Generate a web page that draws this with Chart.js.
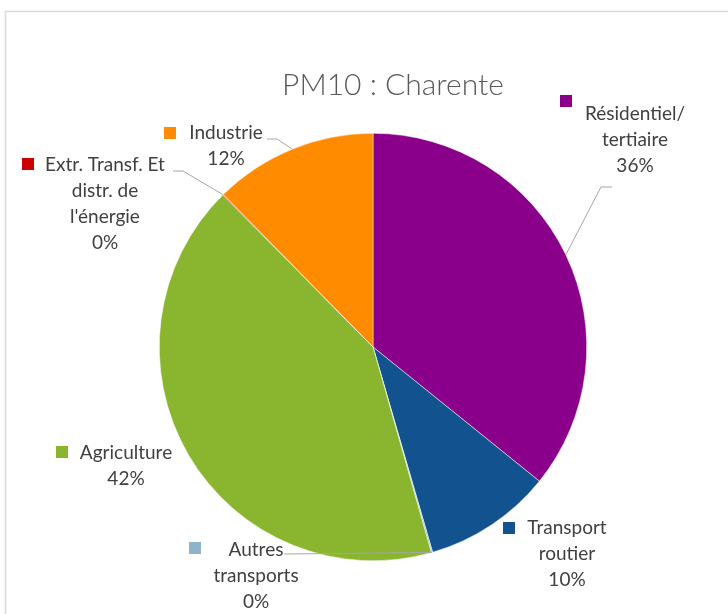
<!DOCTYPE html>
<html>
<head>
<meta charset="utf-8">
<script src="https://cdn.jsdelivr.net/npm/chart.js@4/dist/chart.umd.min.js"></script>
<style>
  html, body { margin: 0; padding: 0; background: #fff; }
  #wrap { width: 728px; height: 614px; }
</style>
</head>
<body>
<div id="wrap"><canvas id="c" width="728" height="614"></canvas></div>
<script>
// PM10 emissions by sector, Charente (shares in %)
const chartTitle = 'PM10 : Charente';
const categories = [
  'Résidentiel/\ntertiaire',
  'Transport\nroutier',
  'Autres\ntransports',
  'Agriculture',
  "Extr. Transf. Et\ndistr. de\nl'énergie",
  'Industrie'
];
const values = [35.8, 9.7, 0.1, 42.0, 0.05, 12.35];
const colors = ['#8B008B', '#11528F', '#8DB4CC', '#89B52F', '#CC0000', '#FF8C00'];

// Where each data label sits, and the elbow/end of its leader line (if any)
const labelLayout = [
  { cx: 635, y: 114, key: [566, 101], leader: [[601, 187], [612, 187]] },
  { cx: 567, y: 528, key: [509, 528], leader: null },
  { cx: 256, y: 550, key: [195, 548], leader: [[284, 554]] },
  { cx: 126, y: 453, key: [62, 452], leader: null },
  { cx: 105, y: 165, key: [28, 164], leader: [[183, 171], [173, 171]] },
  { cx: 226, y: 133, key: [170, 133], leader: [[277, 139], [267, 139]] }
];

const FONT = 'Lato, "Open Sans", sans-serif';
const TEXT = '#404040';
const LINE_H = 26;

const decorations = {
  id: 'decorations',
  beforeDraw(chart) {
    const ctx = chart.ctx;
    ctx.save();
    ctx.fillStyle = '#fff';
    ctx.fillRect(0, 0, chart.width, chart.height);
    ctx.strokeStyle = '#d9d9d9';
    ctx.lineWidth = 1.5;
    ctx.beginPath();
    ctx.moveTo(5.5, chart.height + 5);
    ctx.lineTo(5.5, 11.5);
    ctx.lineTo(chart.width + 5, 11.5);
    ctx.stroke();
    ctx.fillStyle = '#595959';
    ctx.font = '300 30px ' + FONT;
    ctx.textAlign = 'center';
    ctx.textBaseline = 'middle';
    ctx.fillText(chartTitle, 393, 85);
    ctx.restore();
  },
  afterDraw(chart) {
    const ctx = chart.ctx;
    const data = chart.data.datasets[0].data;
    const total = data.reduce((a, b) => a + b, 0);
    const arcs = chart.getDatasetMeta(0).data;
    ctx.save();
    arcs.forEach((arc, i) => {
      const lay = labelLayout[i];
      const p = arc.getProps(['x', 'y', 'startAngle', 'endAngle', 'outerRadius'], true);
      const mid = (p.startAngle + p.endAngle) / 2;
      if (lay.leader) {
        ctx.strokeStyle = '#a6a6a6';
        ctx.lineWidth = 1;
        ctx.beginPath();
        ctx.moveTo(p.x + p.outerRadius * Math.cos(mid), p.y + p.outerRadius * Math.sin(mid));
        lay.leader.forEach(pt => ctx.lineTo(pt[0], pt[1]));
        ctx.stroke();
      }
      // legend key
      ctx.fillStyle = colors[i];
      ctx.fillRect(lay.key[0] - 6, lay.key[1] - 6, 12, 12);
      // label text: category lines + percentage
      const lines = chart.data.labels[i].split('\n');
      lines.push(Math.round(data[i] / total * 100) + '%');
      ctx.fillStyle = TEXT;
      ctx.font = '19px ' + FONT;
      ctx.textAlign = 'center';
      ctx.textBaseline = 'middle';
      lines.forEach((t, k) => ctx.fillText(t, lay.cx, lay.y + k * LINE_H));
    });
    ctx.restore();
  }
};

new Chart(document.getElementById('c'), {
  type: 'pie',
  data: {
    labels: categories,
    datasets: [{
      data: values,
      backgroundColor: colors,
      borderColor: '#ffffff',
      borderWidth: 0.5
    }]
  },
  options: {
    responsive: false,
    animation: false,
    layout: { padding: { left: 159, right: 141, top: 133, bottom: 53 } },
    plugins: {
      legend: { display: false },
      title: { display: false },
      tooltip: { enabled: false }
    }
  },
  plugins: [decorations]
});
</script>
</body>
</html>
